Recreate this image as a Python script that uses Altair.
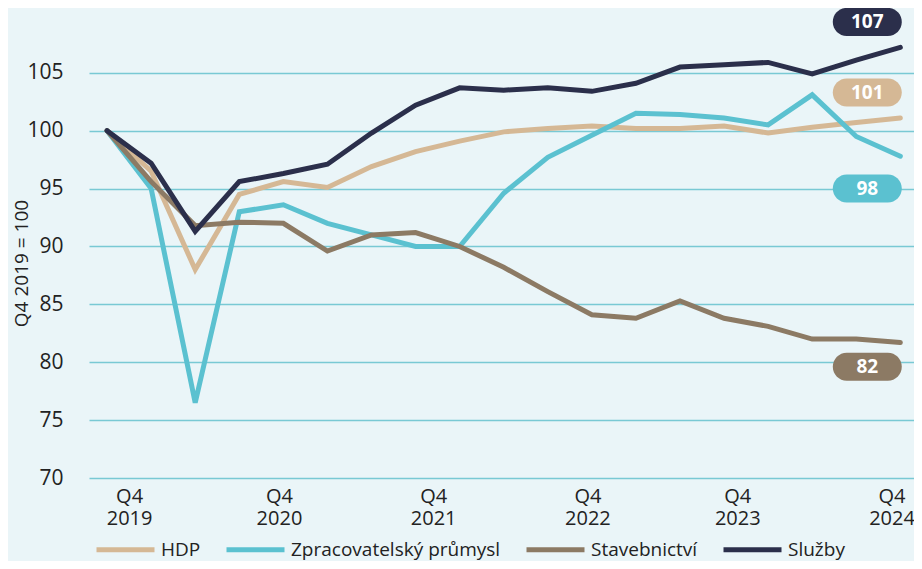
import altair as alt
import pandas as pd

# quarter index (Q4 2019 = 0 ... last = 18)
quarters = list(range(19))
hdp = [100, 96.5, 88.0, 94.5, 95.6, 95.1, 96.9, 98.2, 99.1, 99.9, 100.2, 100.4,
       100.2, 100.2, 100.4, 99.8, 100.3, 100.7, 101.1]
zprac = [100, 95.0, 76.5, 93.0, 93.6, 92.0, 91.0, 90.0, 90.0, 94.6, 97.7, 99.6,
         101.5, 101.4, 101.1, 100.5, 103.1, 99.5, 97.8]
stav = [100, 95.6, 91.8, 92.1, 92.0, 89.6, 91.0, 91.2, 90.0, 88.2, 86.1, 84.1,
        83.8, 85.3, 83.8, 83.1, 82.0, 82.0, 81.7]
sluzby = [100, 97.2, 91.3, 95.6, 96.3, 97.1, 99.8, 102.2, 103.7, 103.5, 103.7, 103.4,
          104.1, 105.5, 105.7, 105.9, 104.9, 106.1, 107.2]

series_names = ["HDP", "Zpracovatelský průmysl", "Stavebnictví", "Služby"]
series_colors = ["#D5B895", "#5BC1D0", "#8C7A64", "#2B2F4B"]

y_ticks = [70, 75, 80, 85, 90, 95, 100, 105]
tick_positions = [0.5, 3.9, 7.4, 10.9, 14.3, 17.8]
tick_labels = [["Q4", "2019"], ["Q4", "2020"], ["Q4", "2021"], ["Q4", "2022"],
               ["Q4", "2023"], ["Q4", "2024"]]

end_labels = ["101", "98", "82", "107"]
end_label_x = [17.25, 17.25, 17.25, 17.25]
end_label_y = [103.3, 95.0, 79.6, 109.4]

rows = []
for name, vals in zip(series_names, [hdp, zprac, stav, sluzby]):
    for q, v in zip(quarters, vals):
        rows.append({"q": q, "value": v, "series": name})
df = pd.DataFrame(rows)

lab = pd.DataFrame({"series": series_names, "text": end_labels,
                    "x": end_label_x, "y": end_label_y, "fill": series_colors})

label_expr = " : ".join(
    f"datum.value == {p} ? {l!r}" for p, l in zip(tick_positions, tick_labels)
) + " : ''"

FONT = "Open Sans"
TXT = "#222222"

color = alt.Color(
    "series:N",
    scale=alt.Scale(domain=series_names, range=series_colors),
    legend=alt.Legend(
        title=None, orient="none", legendX=5, legendY=510, direction="horizontal",
        symbolType="stroke", symbolStrokeWidth=5, symbolSize=3364,
        labelFontSize=19, labelOffset=4, columnPadding=15, labelColor=TXT,
        labelFont=FONT, labelLimit=400,
    ),
)

xscale = alt.Scale(domain=[-0.41, 18.31], nice=False, zero=False)
yscale = alt.Scale(domain=[70, 110.6], nice=False, zero=False)

lines = alt.Chart(df).mark_line(strokeWidth=5, strokeJoin="miter", strokeCap="round").encode(
    x=alt.X("q:Q", scale=xscale,
            axis=alt.Axis(values=tick_positions, labelExpr=label_expr, title=None)),
    y=alt.Y("value:Q", scale=yscale,
            axis=alt.Axis(values=y_ticks, title="Q4 2019 = 100")),
    color=color,
    order=alt.Order("q:Q"),
)

pills = alt.Chart(lab).mark_rect(width=69, height=28, cornerRadius=14).encode(
    x=alt.X("x:Q", scale=xscale),
    y=alt.Y("y:Q", scale=yscale),
    fill=alt.Fill("fill:N", scale=None),
)

pill_text = alt.Chart(lab).mark_text(color="white", fontSize=19, fontWeight="bold",
                                     font=FONT, baseline="middle", align="center").encode(
    x=alt.X("x:Q", scale=xscale),
    y=alt.Y("y:Q", scale=yscale),
    text="text:N",
)

chart = alt.layer(lines, pills, pill_text).properties(
    width=825, height=470,
    background="#EAF5F8",
    padding={"left": 81, "top": 0, "right": 0, "bottom": 83},
    autosize=alt.AutoSizeParams(type="none"),
).configure_view(
    stroke=None
).configure_axis(
    labelFont=FONT, labelColor=TXT, domain=False, ticks=False,
    titleFont=FONT, titleColor=TXT, titleFontWeight="normal",
).configure_axisX(
    grid=False, labelFontSize=20, labelPadding=8, labelLineHeight=22,
    labelFlush=False, labelOverlap=False,
).configure_axisY(
    grid=True, gridColor="#79C9D4", gridWidth=1.5, labelFontSize=21, labelPadding=26,
    titleFontSize=19, titleAngle=-90, titleX=-68, titleY=255,
    titleBaseline="middle", titleAlign="center",
)

chart.save("out.html", embed_options={"renderer": "svg", "actions": False})
